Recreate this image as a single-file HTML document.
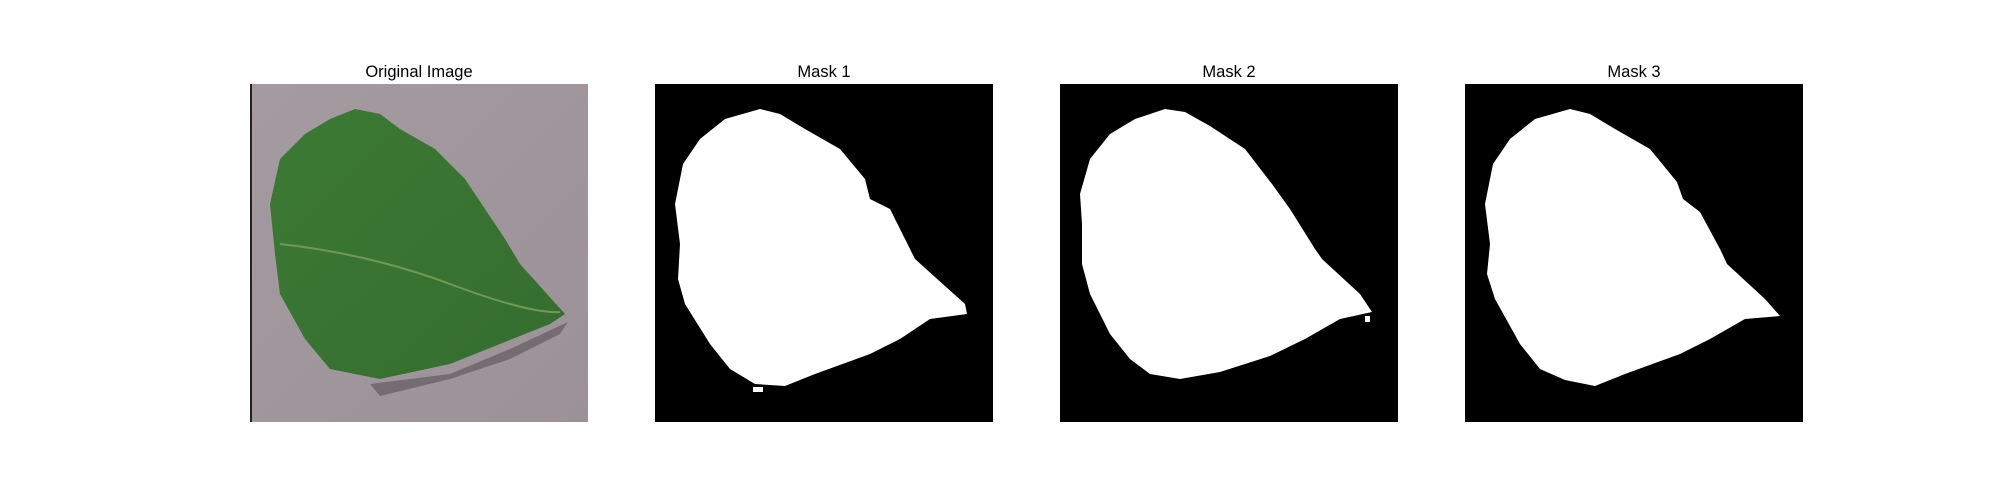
<!DOCTYPE html>
<html><head><meta charset="utf-8"><style>
body{margin:0;width:2000px;height:500px;background:#fff;position:relative;overflow:hidden;font-family:"Liberation Sans","DejaVu Sans",sans-serif}
.ttl{position:absolute;top:63px;width:338px;text-align:center;font-size:16.5px;color:#000}
svg{position:absolute;top:84px}
</style></head><body>
<div class="ttl" style="left:250px">Original Image</div>
<div class="ttl" style="left:655px">Mask 1</div>
<div class="ttl" style="left:1060px">Mask 2</div>
<div class="ttl" style="left:1465px">Mask 3</div>

<svg style="left:250px" width="338" height="338" viewBox="0 0 338 338">
<defs><linearGradient id="bg" x1="0" y1="0" x2="1" y2="1"><stop offset="0" stop-color="#a49ba0"/><stop offset="1" stop-color="#9b9298"/></linearGradient>
<linearGradient id="lf" x1="0" y1="0" x2="1" y2="1"><stop offset="0" stop-color="#3c7a34"/><stop offset="1" stop-color="#356d2f"/></linearGradient></defs>
<rect width="338" height="338" fill="url(#bg)"/>
<rect width="2" height="338" fill="#222"/>
<polygon fill="#5a5258" opacity="0.6" points="120,300 200,290 260,265 318,238 310,250 260,275 200,295 130,312"/>
<polygon fill="url(#lf)" points="105,25 130,30 150,45 185,65 215,95 235,125 255,155 270,180 315,230 300,240 250,260 200,280 130,295 80,285 55,255 30,210 25,170 20,120 30,75 55,50 80,35"/>
<path d="M30,160 Q120,170 200,200 T310,228" stroke="#6f9a55" stroke-width="2" fill="none"/>
</svg>

<svg style="left:655px" width="338" height="338" viewBox="0 0 338 338">
<rect width="338" height="338" fill="#000"/>
<polygon fill="#fff" points="105,25 125,30 150,45 185,65 210,95 215,115 235,125 255,165 260,175 310,220 312,230 275,235 245,255 215,270 160,290 130,302 100,300 75,285 55,260 30,220 23,195 25,160 20,120 28,80 45,55 70,35"/>
<rect x="98" y="303" width="10" height="5" fill="#fff"/>
</svg>

<svg style="left:1060px" width="338" height="338" viewBox="0 0 338 338">
<rect width="338" height="338" fill="#000"/>
<polygon fill="#fff" points="105,25 125,28 150,42 185,65 212,100 230,125 255,165 262,175 300,210 312,228 280,235 245,255 210,272 160,288 120,295 90,290 70,275 50,250 30,210 22,180 22,140 20,110 30,75 50,50 75,35"/>
<rect x="305" y="232" width="5" height="6" fill="#fff"/>
</svg>

<svg style="left:1465px" width="338" height="338" viewBox="0 0 338 338">
<rect width="338" height="338" fill="#000"/>
<polygon fill="#fff" points="105,25 125,30 150,45 185,65 212,98 218,115 235,128 255,165 262,180 300,215 315,232 280,235 245,255 215,270 160,290 130,302 100,296 75,285 55,260 30,215 22,190 25,160 20,120 28,80 45,55 70,35"/>
</svg>
</body></html>
